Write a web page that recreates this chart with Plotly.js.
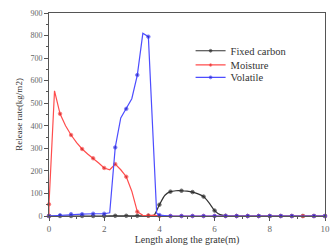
<!DOCTYPE html>
<html><head><meta charset="utf-8">
<script src="https://cdn.plot.ly/plotly-3.0.1.min.js"></script>
<style>html,body{margin:0;padding:0;background:#fff}#c{width:330px;height:246px}</style>
</head><body><div id="c"></div>
<script>
const seriesNames = ["Fixed carbon", "Moisture", "Volatile"];
const carbonX = [0,0.4,0.8,1.2,1.6,2.0,2.4,2.8,3.2,3.6,3.8,4.0,4.2,4.4,4.6,4.8,5.0,5.2,5.4,5.6,5.8,6.0,6.2,6.4,6.8,7.2,7.6,8.0,8.4,8.8,9.2,9.6,10];
const carbonY = [0,0,0,0,0,0,1,1,1,1,3,50,92,108,112,112,110,106,98,86,58,24,6,1,0,0,0,0,0,0,0,0,0];
const moistureX = [0,0,0.2,0.4,0.6,0.8,1.0,1.2,1.4,1.6,1.8,2.0,2.2,2.4,2.6,2.8,3.0,3.2,3.4,3.6,3.8,4.0,4.4,4.8,5.2,5.6,6.0,6.4,6.8,7.2,7.6,8.0,8.4,8.8,9.2,9.6,10];
const moistureY = [0,52,555,453,400,359,325,297,275,256,235,213,205,230,205,174,110,19,3,2,4,0,0,0,0,0,0,0,0,0,0,0,0,0,0,0,0];
const volatileX = [0,0.4,0.8,1.2,1.6,2.0,2.2,2.4,2.6,2.8,3.0,3.2,3.4,3.6,3.9,4.0,4.4,4.8,5.2,5.6,6.0,6.4,6.8,7.2,7.6,8.0,8.4,8.8,9.2,9.6,10];
const volatileY = [0,3,8,8,10,10,14,304,435,475,520,625,810,795,12,4,0,0,0,0,0,0,0,0,0,0,0,0,-2,0,0];
const xTicks = [0,2,4,6,8,10];
const yTicks = [0,100,200,300,400,500,600,700,800,900];

function markSizes(xs){ return xs.map(x => Math.abs(x/0.4 - Math.round(x/0.4)) < 0.01 ? 3.5 : 0); }

const font = {family: "Liberation Serif, Times New Roman, serif", color: "#444"};
const traces = [
  {x: carbonX, y: carbonY, name: seriesNames[0], mode: "lines+markers", legend: "legend",
   line: {color: "#333333", width: 1.2, shape: "spline", smoothing: 0.6},
   marker: {color: "#222222", size: markSizes(carbonX)}, cliponaxis: false},
  {x: moistureX, y: moistureY, name: seriesNames[1], mode: "lines+markers", legend: "legend2",
   line: {color: "#ff4d4d", width: 1.2},
   marker: {color: "#d02020", size: markSizes(moistureX)}, cliponaxis: false},
  {x: volatileX, y: volatileY, name: seriesNames[2], mode: "lines+markers", legend: "legend3",
   line: {color: "#4d4dff", width: 1.2},
   marker: {color: "#2020c0", size: markSizes(volatileX)}, cliponaxis: false}
];
function leg(y){
  return {x: 0.513, y: y, xanchor: "left", yanchor: "middle", bgcolor: "rgba(0,0,0,0)",
          font: Object.assign({size: 10.5}, font, {color: "#333"})};
}
const layout = {
  width: 330, height: 246,
  margin: {l: 49, r: 5, t: 13, b: 30},
  paper_bgcolor: "#fff", plot_bgcolor: "#fff",
  font: Object.assign({size: 9}, font),
  showlegend: true,
  legend: leg(0.814), legend2: leg(0.744), legend3: leg(0.683),
  xaxis: {range: [0, 10], tickvals: xTicks, ticks: "outside", ticklen: 4, tickcolor: "#555",
          ticklabeloverflow: "allow",
          showline: true, linecolor: "#555", linewidth: 1, mirror: true, showgrid: false, zeroline: false,
          minor: {tickvals: [1,3,5,7,9], ticks: "outside", ticklen: 2, tickcolor: "#555"},
          tickfont: Object.assign({size: 9}, font, {color: "#666"}),
          title: {text: "Length along the grate(m)", font: Object.assign({size: 10}, font, {color: "#333"}), standoff: 4}},
  yaxis: {range: [0, 900], tickvals: yTicks, ticks: "outside", ticklen: 4, tickcolor: "#555",
          showline: true, linecolor: "#555", linewidth: 1, mirror: true, showgrid: false, zeroline: false,
          minor: {tickvals: [50,150,250,350,450,550,650,750,850], ticks: "outside", ticklen: 2, tickcolor: "#555"},
          tickfont: Object.assign({size: 8}, font, {color: "#666"}),
          title: {text: "Release rate(kg/m2)", font: Object.assign({size: 9}, font, {color: "#333"}), standoff: 6}}
};
Plotly.newPlot("c", traces, layout, {displayModeBar: false, staticPlot: true});
</script></body></html>
